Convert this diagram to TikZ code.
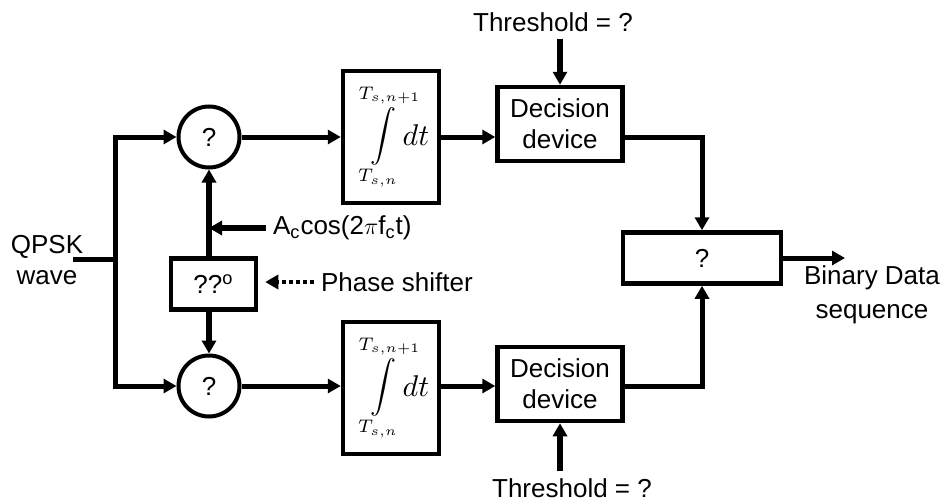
\documentclass[tikz,border=0pt]{standalone}
\usepackage{amsmath}
\usepackage{graphicx}
\usepackage[no-math]{fontspec}
\setmainfont{Liberation Sans}
\usetikzlibrary{shapes.geometric, arrows.meta}
\tikzstyle{mixer} = [circle, minimum size=30.5pt, inner sep=0pt, draw=black, line width=2pt]
\tikzstyle{integ} = [rectangle, minimum width=48pt, minimum height=66pt, inner sep=0pt, draw=black, line width=2.25pt, font=\fontsize{10pt}{12pt}\selectfont]
\tikzstyle{decide} = [rectangle, minimum width=62.5pt, minimum height=37pt, align=center, text centered, draw=black, line width=2.25pt]
\tikzstyle{block} = [rectangle, minimum height=25.5pt, inner sep=0pt, text centered, draw=black, line width=2.25pt]
\tikzstyle{txt} = [align=center]
\tikzstyle{wire} = [line width=2.5pt]
\tikzstyle{arrow} = [line width=2.5pt,->,>={Triangle[length=6.5pt,width=7pt]}]
\newcommand{\intdt}{\scalebox{1.3}{$\displaystyle\int\limits_{T_{s,n}}^{T_{s,n+1}}$}\hspace{-6pt}\raisebox{-1.5pt}{\scalebox{1.5}{$dt$}}}

\begin{document}
\begin{tikzpicture}[x=0.5pt, y=-0.5pt, node distance=91pt, font=\fontsize{13pt}{15.5pt}\selectfont]
\useasboundingbox (0,0) rectangle (943,503);
\node (mul1) [mixer] at (209,137) {?};
\node (int1) [integ, right of=mul1] {\intdt};
\node (dec1) [decide, right of=int1, xshift=-6.5pt, yshift=6.5pt] {Decision\\device};
\node (mul2) [mixer, below of=mul1, yshift=-33.5pt] {?};
\node (int2) [integ, right of=mul2, yshift=-1pt] {\intdt};
\node (dec2) [decide, right of=mul2, xshift=84.5pt, yshift=1pt] {Decision\\device};
\node (phase) [block, minimum width=42.5pt] at (213.5,284) {??\textsuperscript{o}};
\node (sum) [block, minimum width=79pt] at (702,258) {?};
\node (qpsk) [txt] at (47,260) {QPSK\\wave};
\node (ac) [anchor=west] at (266,228) {A\textsubscript{c}cos(2$\pi$f\textsubscript{c}t)};
\node (ps) [anchor=west] at (314,282) {Phase shifter};
\node (th1) [txt] at (553,22) {Threshold = ?};
\node (th2) [txt] at (572,488) {Threshold = ?};
\node (bin) [txt, font=\fontsize{13pt}{17pt}\selectfont] at (872,295) {Binary Data\\sequence};
\coordinate (in) at (73,259);
\coordinate (split) at (115,259);
\coordinate (out) at (845,258);
\draw [wire] (in) -- (split);
\draw [arrow] (split) |- (mul1.west);
\draw [arrow] (split) |- (mul2.west);
\draw [arrow] (mul1) -- (mul1 -| int1.west);
\draw [arrow] (mul2) -- (mul2 -| int2.west);
\draw [arrow] (int1.east |- mul1) -- (mul1 -| dec1.west);
\draw [arrow] (int2.east |- mul2) -- (mul2 -| dec2.west);
\draw [arrow] (dec1.east |- mul1) -| (sum.north);
\draw [arrow] (dec2.east |- mul2) -| (sum.south);
\draw [arrow] (sum.east) -- (out);
\draw [arrow, line width=2.75pt] (mul1.south |- phase.north) -- (mul1.south);
\draw [arrow, line width=2.75pt] (mul2.north |- phase.south) -- (mul2.north);
\draw [arrow, line width=3pt] (ac.west) -- (ac.west -| mul1.south);
\draw [arrow, line width=2pt, dash pattern=on 2pt off 1.5pt, shorten >=3.5pt] (ps.west) -- (phase.east |- ps.west);
\draw [arrow, line width=3pt] (dec1.north |- th1.south) -- (dec1.north);
\draw [arrow, line width=3pt] (dec2.south |- th2.north) -- (dec2.south);
\end{tikzpicture}
\end{document}
